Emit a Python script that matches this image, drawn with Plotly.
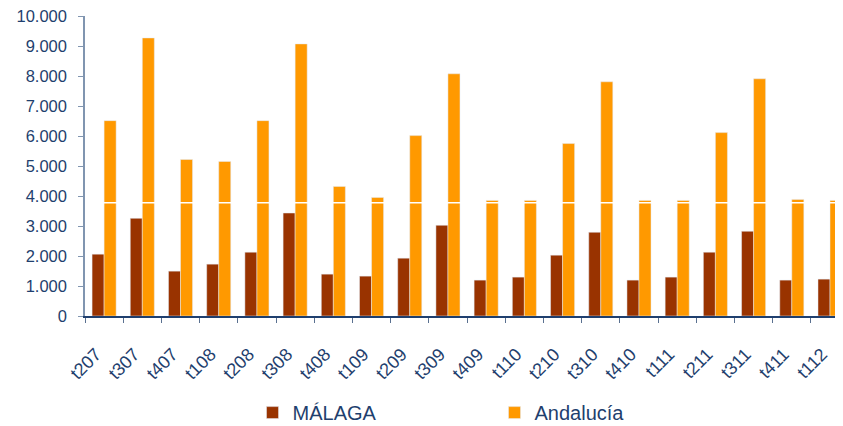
import plotly.graph_objects as go

# quarters (tQYY)
trimestres = ["t207", "t307", "t407", "t108", "t208", "t308", "t408", "t109", "t209", "t309",
              "t409", "t110", "t210", "t310", "t410", "t111", "t211", "t311", "t411", "t112"]

malaga = [2060, 3256, 1495, 1728, 2126, 3433, 1395, 1329, 1927, 3023,
          1196, 1296, 2027, 2791, 1196, 1296, 2126, 2824, 1196, 1229]

andalucia = [6512, 9269, 5216, 5150, 6512, 9070, 4319, 3953, 6013, 8073,
             3854, 3854, 5748, 7807, 3854, 3854, 6113, 7907, 3887, 3854]

azul = "#1F3F6E"

fig = go.Figure()
fig.add_trace(go.Bar(x=trimestres, y=malaga, name="MÁLAGA", marker_color="#993300"))
fig.add_trace(go.Bar(x=trimestres, y=andalucia, name="Andalucía", marker_color="#FF9900"))

# white break line that cuts through the bars in the original
fig.add_shape(type="line", xref="paper", x0=0, x1=1, yref="y", y0=3777, y1=3777,
              line=dict(color="white", width=1.5), layer="above")

# page has an 8px body margin, so the figure is a bit smaller than the window
fig.update_layout(
    width=835, height=418,
    margin=dict(l=77, r=0, t=8, b=110, autoexpand=False),
    plot_bgcolor="white", paper_bgcolor="white",
    barmode="group", bargap=0.37, bargroupgap=0,
    separators=",.",
    font=dict(family="Liberation Sans, Arial", color=azul, size=16),
    showlegend=True,
    legend=dict(orientation="h", x=0.221, xanchor="left", y=-0.322, yanchor="middle",
                font=dict(size=20), entrywidth=197, itemwidth=30),
)
fig.update_xaxes(
    range=[-0.5, 19.34], automargin=False,
    tickangle=-45, tickson="boundaries", ticks="outside", ticklen=5,
    tickcolor="#5a7090", showline=True, linecolor=azul, linewidth=1.5,
    showgrid=False, tickfont=dict(size=18),
    ticklabelstandoff=19, ticklabelshift=-8,
)
fig.update_yaxes(
    range=[0, 10000], dtick=1000, tickformat=",d", automargin=False,
    ticks="outside", ticklen=5, tickcolor="#8095b0",
    showline=True, linecolor="#8095b0", linewidth=1.5,
    showgrid=False, zeroline=False, tickfont=dict(size=16.5),
    ticklabelstandoff=8, ticklabeloverflow="allow",
)

fig.write_html("out.html")
